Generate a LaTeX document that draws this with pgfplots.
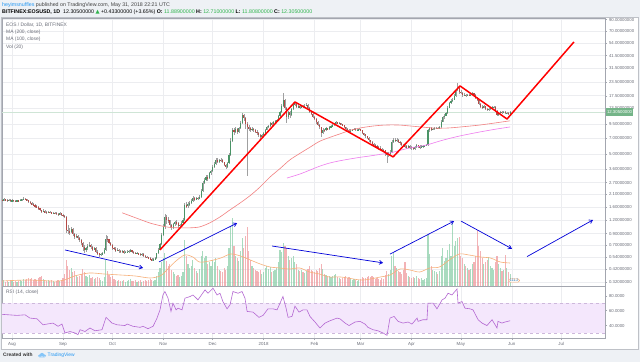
\documentclass[border=0pt]{standalone}
\usepackage{pgfplots}
\pgfplotsset{compat=1.18}
\usepackage{pgfplotstable}
\usepackage{fontspec}
\setmainfont{Liberation Sans}
\newfontfamily\symfont{DejaVu Sans}
\usetikzlibrary{arrows.meta}
\definecolor{bgc}{HTML}{EEF1F5}
\definecolor{framec}{HTML}{A3A6AF}
\definecolor{gridc}{HTML}{ECEDF0}
\definecolor{labc}{HTML}{6A6D78}
\definecolor{upc}{HTML}{4A9466}
\definecolor{dnc}{HTML}{B54A47}
\definecolor{wickc}{HTML}{A0A0A0}
\definecolor{volup}{HTML}{8DCFAA}
\definecolor{voldn}{HTML}{F09A9E}
\definecolor{volma}{HTML}{F7B07A}
\definecolor{mahund}{HTML}{F28080}
\definecolor{matwo}{HTML}{EE7CEE}
\definecolor{rsic}{HTML}{B468D2}
\definecolor{rsiband}{HTML}{F4E7FC}
\definecolor{rsidash}{HTML}{CDB8DB}
\definecolor{tvblue}{HTML}{2196F3}
\definecolor{valg}{HTML}{2EB34B}
\definecolor{pricec}{HTML}{74B488}
\definecolor{pricel}{HTML}{CFE5D6}

\pgfplotstableread{
d o h l c v
-6 1.86 1.90 1.80 1.84 5
-5 1.84 1.92 1.82 1.88 6
-4 1.88 1.90 1.81 1.85 4
-3 1.85 1.88 1.79 1.83 5
-2 1.83 1.89 1.80 1.86 4
-1 1.86 1.88 1.78 1.82 6
0 1.82 1.88 1.80 1.85 5
1 1.85 1.87 1.79 1.83 4
2 1.83 1.85 1.77 1.81 5
3 1.81 1.87 1.79 1.84 4
4 1.84 1.86 1.78 1.82 5
5 1.82 1.89 1.80 1.86 6
6 1.86 1.91 1.83 1.88 5
7 1.88 1.96 1.85 1.91 7
8 1.91 1.94 1.85 1.89 6
9 1.89 1.91 1.80 1.84 7
10 1.84 1.86 1.74 1.78 8
11 1.78 1.81 1.70 1.74 7
12 1.74 1.77 1.66 1.70 8
13 1.70 1.73 1.62 1.66 6
14 1.66 1.69 1.58 1.62 7
15 1.62 1.65 1.56 1.60 6
16 1.60 1.62 1.50 1.55 8
17 1.55 1.57 1.45 1.49 9
18 1.49 1.51 1.40 1.44 10
19 1.44 1.52 1.42 1.47 7
20 1.47 1.49 1.40 1.43 6
21 1.43 1.46 1.38 1.41 5
22 1.41 1.48 1.40 1.44 6
23 1.44 1.46 1.39 1.42 5
24 1.42 1.44 1.36 1.39 6
25 1.39 1.44 1.37 1.41 5
26 1.41 1.43 1.37 1.40 4
27 1.40 1.42 1.35 1.38 5
28 1.38 1.40 1.33 1.36 6
29 1.36 1.42 1.34 1.39 5
30 1.39 1.41 1.32 1.35 6
31 1.35 1.37 1.28 1.33 8
32 1.33 1.35 1.25 1.30 12
33 1.30 1.31 0.92 0.98 26
34 0.98 1.08 0.90 0.95 20
35 0.95 1.02 0.88 0.93 16
36 0.93 1.05 0.91 0.99 18
37 0.99 1.01 0.86 0.89 14
38 0.89 0.92 0.80 0.84 15
39 0.84 0.90 0.82 0.86 10
40 0.86 0.88 0.79 0.82 9
41 0.82 0.84 0.76 0.79 10
42 0.79 0.80 0.71 0.74 12
43 0.74 0.76 0.62 0.68 17
44 0.68 0.70 0.60 0.64 14
45 0.64 0.68 0.61 0.66 10
46 0.66 0.72 0.64 0.69 9
47 0.69 0.75 0.67 0.71 11
48 0.71 0.72 0.65 0.67 8
49 0.67 0.69 0.62 0.64 9
50 0.64 0.68 0.63 0.66 7
51 0.66 0.67 0.59 0.61 8
52 0.61 0.63 0.57 0.59 9
53 0.59 0.60 0.55 0.57 8
54 0.57 0.60 0.56 0.58 6
55 0.58 0.61 0.57 0.59 5
56 0.59 0.66 0.58 0.63 9
57 0.63 0.88 0.62 0.81 26
58 0.81 0.86 0.76 0.80 15
59 0.80 0.81 0.72 0.74 11
60 0.74 0.76 0.69 0.71 9
61 0.71 0.72 0.64 0.66 10
62 0.66 0.68 0.63 0.65 7
63 0.65 0.67 0.61 0.63 6
64 0.63 0.66 0.62 0.64 5
65 0.64 0.65 0.60 0.62 6
66 0.62 0.63 0.59 0.61 5
67 0.61 0.64 0.60 0.62 5
68 0.62 0.63 0.59 0.60 6
69 0.60 0.62 0.59 0.61 4
70 0.61 0.63 0.60 0.61 5
71 0.61 0.64 0.60 0.62 6
72 0.62 0.65 0.61 0.63 7
73 0.63 0.64 0.60 0.61 5
74 0.61 0.62 0.59 0.60 5
75 0.60 0.61 0.58 0.59 6
76 0.59 0.61 0.58 0.59 4
77 0.59 0.60 0.57 0.58 5
78 0.58 0.59 0.56 0.57 6
79 0.57 0.59 0.56 0.58 4
80 0.58 0.59 0.55 0.56 5
81 0.56 0.57 0.54 0.55 6
82 0.55 0.56 0.53 0.54 5
83 0.54 0.55 0.52 0.53 6
84 0.53 0.54 0.51 0.52 7
85 0.52 0.53 0.50 0.51 6
86 0.51 0.53 0.50 0.52 5
87 0.52 0.54 0.51 0.53 6
88 0.53 0.60 0.52 0.59 10
89 0.59 0.66 0.58 0.64 14
90 0.64 0.74 0.63 0.72 18
91 0.72 0.92 0.70 0.88 24
92 0.88 1.10 0.85 1.04 28
93 1.04 1.38 1.00 1.29 33
94 1.29 1.35 1.12 1.22 25
95 1.22 1.30 1.14 1.20 20
96 1.20 1.22 1.02 1.08 22
97 1.08 1.12 0.98 1.02 16
98 1.02 1.14 1.00 1.10 14
99 1.10 1.18 1.06 1.15 12
100 1.15 1.20 1.09 1.13 10
101 1.13 1.15 1.02 1.06 11
102 1.06 1.12 1.04 1.09 9
103 1.09 1.17 1.07 1.14 10
104 1.14 1.25 1.12 1.21 14
105 1.21 1.75 1.19 1.67 46
106 1.67 1.78 1.55 1.62 30
107 1.62 1.76 1.58 1.70 22
108 1.70 1.80 1.64 1.74 18
109 1.74 1.88 1.70 1.82 20
110 1.82 2.02 1.78 1.94 26
111 1.94 1.99 1.82 1.88 18
112 1.88 1.98 1.85 1.94 15
113 1.94 1.97 1.85 1.90 13
114 1.90 2.05 1.88 1.98 17
115 1.98 2.35 1.95 2.25 30
116 2.25 2.80 2.20 2.68 35
117 2.68 2.98 2.60 2.85 28
118 2.85 3.20 2.78 3.05 30
119 3.05 3.15 2.80 2.95 22
120 2.95 3.40 2.90 3.30 24
121 3.30 3.55 3.20 3.45 20
122 3.45 3.90 3.40 3.78 26
123 3.78 4.20 3.70 4.05 24
124 4.05 4.60 3.95 4.40 28
125 4.40 4.55 4.10 4.25 20
126 4.25 4.50 4.15 4.40 16
127 4.40 4.55 4.25 4.35 15
128 4.35 4.45 4.10 4.20 14
129 4.20 4.25 3.85 3.95 18
130 3.95 4.05 3.65 3.78 16
131 3.78 4.20 3.72 4.10 20
132 4.10 5.10 4.05 4.90 38
133 4.90 7.00 4.80 6.60 60
134 6.60 8.80 6.50 8.40 68
135 8.40 8.70 7.50 8.00 40
136 8.00 8.90 7.80 8.60 30
137 8.60 8.80 7.70 8.10 28
138 8.10 8.90 7.90 8.70 25
139 8.70 10.2 8.60 9.80 35
140 9.80 12.0 9.60 11.6 48
141 11.6 11.9 10.2 10.9 38
142 10.9 11.0 8.60 9.60 50
143 9.60 9.90 3.10 8.90 59
144 8.90 9.40 8.20 8.70 35
145 8.70 9.00 8.00 8.40 26
146 8.40 8.90 8.20 8.60 20
147 8.60 8.80 8.10 8.40 18
148 8.40 8.50 7.80 8.10 16
149 8.10 8.30 7.50 7.80 15
150 7.80 7.95 7.20 7.50 14
151 7.50 7.70 6.90 7.20 16
152 7.20 7.70 7.10 7.50 12
153 7.50 8.00 7.40 7.80 14
154 7.80 8.60 7.70 8.40 18
155 8.40 9.10 8.30 8.90 20
156 8.90 9.40 8.70 9.20 17
157 9.20 9.90 9.00 9.70 19
158 9.70 9.90 9.20 9.50 14
159 9.50 10.1 9.30 9.90 15
160 9.90 10.4 9.70 10.1 16
161 10.1 10.7 9.90 10.4 18
162 10.4 11.6 10.2 11.3 24
163 11.3 12.6 11.1 12.2 36
164 12.2 14.5 12.0 14.0 34
165 14.0 18.5 13.8 16.1 43
166 16.1 16.4 13.0 13.5 40
167 13.5 13.7 9.80 11.0 38
168 11.0 12.6 10.6 12.3 30
169 12.3 12.6 10.9 11.5 26
170 11.5 13.5 11.2 13.2 28
171 13.2 14.7 13.0 14.3 30
172 14.3 15.3 14.0 14.8 24
173 14.8 15.0 13.4 13.8 22
174 13.8 14.3 13.5 13.9 16
175 13.9 14.1 13.1 13.5 15
176 13.5 14.4 13.3 14.0 16
177 14.0 14.3 13.4 13.8 14
178 13.8 14.5 13.6 14.1 13
179 14.1 14.8 13.9 14.3 15
180 14.3 14.5 13.2 13.5 17
181 13.5 13.7 12.1 12.4 20
182 12.4 12.7 11.5 11.8 16
183 11.8 12.0 10.8 11.1 15
184 11.1 11.4 10.3 10.6 14
185 10.6 10.9 9.60 9.90 16
186 9.90 10.2 9.10 9.40 15
187 9.40 9.60 8.60 8.90 18
188 8.90 9.00 7.20 7.80 22
189 7.80 8.70 7.60 8.40 17
190 8.40 8.60 8.00 8.30 12
191 8.30 8.90 8.20 8.70 11
192 8.70 8.80 8.30 8.50 9
193 8.50 9.10 8.40 8.90 10
194 8.90 9.30 8.80 9.10 9
195 9.10 9.50 9.00 9.30 10
196 9.30 9.80 9.20 9.60 11
197 9.60 10.1 9.50 9.90 12
198 9.90 10.0 9.50 9.70 9
199 9.70 9.90 9.50 9.70 8
200 9.70 9.80 9.30 9.50 7
201 9.50 9.60 9.10 9.30 8
202 9.30 9.40 8.70 8.90 9
203 8.90 9.00 8.40 8.60 10
204 8.60 8.70 8.20 8.40 8
205 8.40 8.50 7.90 8.10 9
206 8.10 8.50 8.00 8.30 7
207 8.30 8.60 8.20 8.40 6
208 8.40 8.80 8.30 8.60 7
209 8.60 8.70 8.30 8.40 6
210 8.40 8.60 8.20 8.40 5
211 8.40 8.70 8.30 8.50 6
212 8.50 8.60 8.20 8.30 7
213 8.30 8.40 7.70 7.80 9
214 7.80 7.90 7.40 7.60 8
215 7.60 7.70 7.10 7.30 8
216 7.30 7.40 6.90 7.10 9
217 7.10 7.20 6.50 6.70 10
218 6.70 6.80 6.30 6.50 9
219 6.50 6.60 6.00 6.20 10
220 6.20 6.30 5.80 6.00 9
221 6.00 6.20 5.80 5.90 7
222 5.90 6.00 5.60 5.80 8
223 5.80 5.90 5.50 5.70 7
224 5.70 5.90 5.50 5.60 6
225 5.60 5.70 5.30 5.50 8
226 5.50 5.60 5.20 5.40 7
227 5.40 5.50 4.80 5.10 11
228 5.10 5.20 4.10 4.90 15
229 4.90 5.20 4.70 5.00 12
230 5.00 5.40 4.90 5.20 16
231 5.20 6.70 5.10 6.50 30
232 6.50 7.10 6.30 6.80 33
233 6.80 7.00 6.40 6.60 20
234 6.60 7.00 6.50 6.80 18
235 6.80 6.90 6.30 6.50 15
236 6.50 6.60 6.10 6.30 14
237 6.30 6.40 5.90 6.10 12
238 6.10 6.20 5.80 6.00 16
239 6.00 6.10 5.70 5.90 24
240 5.90 6.00 5.60 5.80 13
241 5.80 6.10 5.70 5.90 10
242 5.90 6.00 5.60 5.80 9
243 5.80 5.90 5.50 5.70 8
244 5.70 5.80 5.40 5.60 9
245 5.60 5.90 5.50 5.80 8
246 5.80 6.20 5.70 6.00 10
247 6.00 6.10 5.70 5.90 8
248 5.90 6.00 5.60 5.80 7
249 5.80 6.00 5.70 5.90 8
250 5.90 6.00 5.70 5.90 6
251 5.90 6.10 5.80 6.00 7
252 6.00 6.20 5.90 6.00 8
253 6.00 8.60 5.95 8.40 51
254 8.40 8.90 8.10 8.70 32
255 8.70 8.90 8.20 8.50 20
256 8.50 8.80 8.30 8.60 16
257 8.60 8.90 8.40 8.70 15
258 8.70 9.00 8.50 8.80 14
259 8.80 8.90 8.50 8.70 12
260 8.70 9.10 8.60 8.90 15
261 8.90 10.3 8.80 10.0 30
262 10.0 11.3 9.90 11.0 38
263 11.0 11.8 10.7 11.4 25
264 11.4 12.4 11.2 12.0 28
265 12.0 13.9 11.8 13.5 36
266 13.5 15.4 13.3 15.0 42
267 15.0 16.2 14.6 15.6 30
268 15.6 16.8 15.2 16.0 63
269 16.0 18.0 15.8 17.5 40
270 17.5 20.3 17.2 19.8 45
271 19.8 23.0 19.3 20.5 48
272 20.5 21.0 18.3 19.0 49
273 19.0 19.6 18.0 18.6 30
274 18.6 19.0 17.2 17.8 28
275 17.8 18.4 17.4 17.9 22
276 17.9 18.2 17.1 17.6 20
277 17.6 18.3 17.3 17.8 18
278 17.8 18.1 17.3 17.7 16
279 17.7 18.2 17.4 17.8 17
280 17.8 19.0 17.6 18.5 22
281 18.5 18.7 17.5 17.9 24
282 17.9 18.1 16.4 16.8 30
283 16.8 17.0 15.5 16.0 56
284 16.0 16.2 14.2 14.5 40
285 14.5 14.9 13.4 13.8 35
286 13.8 14.2 13.1 13.5 28
287 13.5 14.3 13.3 13.9 22
288 13.9 14.0 12.9 13.2 24
289 13.2 13.4 12.5 12.9 26
290 12.9 13.5 12.7 13.2 29
291 13.2 13.8 13.0 13.5 20
292 13.5 14.0 13.3 13.7 18
293 13.7 14.1 13.4 13.8 16
294 13.8 13.9 12.3 12.6 24
295 12.6 12.8 11.2 11.6 30
296 11.6 12.4 11.4 12.1 22
297 12.1 12.7 11.9 12.4 18
298 12.4 12.6 11.9 12.2 15
299 12.2 12.7 12.0 12.4 16
300 12.4 12.5 11.7 12.0 31
301 12.0 12.4 11.8 12.1 18
302 12.1 12.3 11.6 11.9 14
303 11.889 12.71 11.808 12.305 12
}\price

\pgfplotstableread{
d p
67 1.41
72 1.32
78 1.22
84 1.13
90 1.07
96 1.03
102 1.02
108 1.02
114 1.04
120 1.13
126.5 1.29
132 1.48
138.7 1.74
145 2.05
150.9 2.46
157 3.05
163 3.65
169 4.40
175 5.05
181 5.75
187 6.55
193.4 7.15
200 7.75
205.6 8.30
212 8.75
218 9.05
224 9.25
230 9.33
236 9.30
242 9.13
250 8.90
258 8.70
266 8.75
275 9.00
285 9.33
295 9.80
303 10.2
}\mahundred

\pgfplotstableread{
d p
167.3 2.98
175.2 3.25
181.3 3.54
187.3 3.85
193.4 4.12
199.5 4.32
205.6 4.49
211.7 4.65
217.8 4.79
223.8 4.95
229.9 5.11
236 5.40
242.1 5.69
248.2 5.90
252.4 6.07
260.3 6.61
266.4 7.00
272.5 7.37
278.6 7.70
284.7 8.03
293.8 8.50
303 8.94
}\matwohundred

\pgfplotstableread{
d v
-6 5
10 6
29 5
38 10
47 13
56 12
66 11
75 10
84 8
90 10
93 14
99 24
105 31
110 29
114 24
120 25
127 28
133 32
139 30
145 26
151 22
157 19
163 18
169 17
175 18
181 14
187 12
193 9
200 9
212 6
218 7
224 9
230 11
236 17
242 16
248 14
254 18
260 19
266 26
272 32
278 31
285 29
291 28
297 24
303 23
}\volmatab

\pgfplotstableread{
d r
-6 55
3 53.6
7.9 54.4
10.9 50
15.2 49
18.9 41
21.3 42
24.9 43.3
28 39
30.4 42
32.2 30
35.3 32
38.3 30
40.1 27.8
41.4 34.4
44.4 32
47.4 36.7
50.5 33
54.7 34.4
57.2 51
60.8 43.3
63.9 41
68.7 40
70 42
73.6 39
77.9 37.6
79.7 39
82.7 35.8
85.8 39
88.2 50
90 61
91.8 81
93 85.6
94.9 76.7
96.7 58.9
97.9 70
99.8 61
101 63.3
103.4 61
105.2 76.7
108.3 78.9
110.1 81
113.1 74.4
117.4 87.8
119.2 83.3
122.3 90
124.7 81
126.5 83.3
128.3 72
130.8 62.4
132.6 67.8
134.4 85.6
137.5 83.3
139.9 85.6
141.7 76.7
143 58.9
146.6 58
150.2 51
152.7 53.6
155.7 62.4
158.8 62.4
161.2 61
164.8 78.9
166.7 63.3
167.9 51
170.3 52.2
172.1 66
174.6 58
177 61
179.4 61
181.3 52
184.3 44.7
187.3 36.7
190.4 43.3
193.4 46.4
197.7 50
199.5 49
202.6 43.3
205 40
208.6 44.7
211.7 45.6
214.7 42
216.5 37.6
219.6 34.4
222.6 33
225.7 30
228.1 26.9
229.9 50
232.4 52.2
234.8 45.6
237.8 43.3
240.9 44.7
243.3 42
246.4 50
247 45.6
250 47.8
252.4 47.8
253 70
256.1 70
258.5 62.4
261.6 74.4
263.4 76.7
265.2 83.3
267.6 81
270.7 89
271.3 70
273.7 72.2
275.5 63.3
278.6 62.4
280.4 61
283.5 47.8
285.9 43.3
288.9 40
292 47.8
295 36.7
295.6 45.6
298 43.3
299.9 44.7
303 46.4
}\rsitab

\pgfplotstableread{
d p
90.0 0.635
172.1 15.3
231.8 4.69
272.5 21.6
301.1 10.6
341.8 55.6
}\redtrend

\pgfplotstableread{
d p
32.2 0.634
79.7 0.431
}\arrA
\pgfplotstableread{
d p
89.4 0.490
136.9 1.13
}\arrB
\pgfplotstableread{
d p
158.2 0.69
225.7 0.48
}\arrC
\pgfplotstableread{
d p
229.9 0.58
268.9 1.18
}\arrD
\pgfplotstableread{
d p
273.1 1.18
304.1 0.65
}\arrE
\pgfplotstableread{
d p
313.3 0.55
353.4 1.21
}\arrF

\pgfplotsset{
  paneaxis/.style={scale only axis, width=603pt, anchor=south west,
    xmin=-6.1, xmax=360.7},
  bluearrow/.style={draw=blue!85!black, line width=0.7pt, -{Straight Barb[length=3.2pt,width=4pt]}},
}

\begin{document}
\begin{tikzpicture}
\fill[bgc] (0pt,0pt) rectangle (640pt,362pt);
\fill[white] (1.5pt,13pt) rectangle (638pt,344.5pt);
\draw[framec!70, line width=0.4pt] (1.5pt,13pt) rectangle (638pt,344.5pt);

% header
\node[anchor=west, inner sep=0pt, font=\fontsize{5.3}{6}\selectfont] at (2pt,357pt)
  {{\color{tvblue}heyimsnuffles} {\color{black!75}published on TradingView.com, May 31, 2018 22:21 UTC}};
\node[anchor=west, inner sep=0pt, font=\fontsize{5.3}{6}\selectfont] at (2pt,349.5pt)
  {\textbf{BITFINEX:EOSUSD, 1D}\ \ 12.30500000 {\color{valg}\symfont ▲} +0.43300000 (+3.65\%) \textbf{O:} {\color{valg}11.88900000} \textbf{H:} {\color{valg}12.71000000} \textbf{L:} {\color{valg}11.80800000} \textbf{C:} {\color{valg}12.30500000}};

% main pane frame + grid
\begin{axis}[paneaxis, at={(2pt,76pt)}, height=268pt,
  ymin=-1.2311, ymax=4.5337,
  xtick={0,31,61,92,122,153,184,212,243,273,304,334}, xticklabels={},
  xtick style={draw=none},
  ytick={-1.1394,-0.8675,-0.6162,-0.3567,-0.1054,0.1823,0.4700,0.7419,0.9933,1.2809,1.6094,1.9459,2.2513,2.6027,2.8622,3.1570,3.4500,3.7257,3.9890,4.2485,4.4998},
  yticklabels={0.32000000,0.42000000,0.54000000,0.70000000,0.90000000,1.20000000,1.60000000,2.10000000,2.70000000,3.60000000,5.00000000,7.00000000,9.50000000,13.50000000,17.50000000,23.50000000,31.50000000,41.50000000,54.00000000,70.00000000,90.00000000},
  ytick pos=right, yticklabel pos=right,
  tick align=outside, major tick length=2pt,
  ytick style={draw=framec, line width=0.4pt},
  yticklabel style={font=\fontsize{4.3}{5}\selectfont, text=labc, xshift=-1.5pt},
  /pgf/number format/assume math mode=true,
  grid=major, major grid style={draw=gridc, line width=0.45pt},
  axis line style={draw=framec, line width=0.5pt}]
\addplot[draw=pricel, line width=0.6pt] coordinates {(-6.1,2.5100) (360.7,2.5100)};
\end{axis}

% volume
\begin{axis}[paneaxis, at={(2pt,76pt)}, height=268pt, hide axis, ymin=0, ymax=268]
\addplot[ycomb, mark=none, draw=volup, draw opacity=0.75, line width=1.15pt,
  restrict expr to domain={\thisrow{c}-\thisrow{o}}{0:1000}] table[x=d, y=v] {\price};
\addplot[ycomb, mark=none, draw=voldn, draw opacity=0.75, line width=1.15pt,
  restrict expr to domain={\thisrow{c}-\thisrow{o}}{-1000:-0.0000001}] table[x=d, y=v] {\price};
\addplot[draw=volma, mark=none, line width=0.6pt, smooth] table[x=d, y=v] {\volmatab};
\end{axis}

% price data
\begin{axis}[paneaxis, at={(2pt,76pt)}, height=268pt, hide axis, ymin=-1.2311, ymax=4.5337]
\addplot[draw=none, mark=none,
  error bars/.cd, y dir=both, y explicit, error mark=none,
  error bar style={draw=wickc, line width=0.4pt, solid}]
  table[x=d, y expr={ln(\thisrow{c})},
    y error plus expr={ln(\thisrow{h})-ln(\thisrow{c})},
    y error minus expr={ln(\thisrow{c})-ln(\thisrow{l})}] {\price};
\addplot[draw=none, mark=none,
  restrict expr to domain={\thisrow{c}-\thisrow{o}}{0:1000},
  error bars/.cd, y dir=both, y explicit, error mark=none,
  error bar style={draw=upc, line width=1.1pt, solid}]
  table[x=d, y expr={(ln(\thisrow{c})+ln(\thisrow{o}))/2},
    y error expr={max(abs(ln(\thisrow{c})-ln(\thisrow{o}))/2,0.004)}] {\price};
\addplot[draw=none, mark=none,
  restrict expr to domain={\thisrow{c}-\thisrow{o}}{-1000:-0.0000001},
  error bars/.cd, y dir=both, y explicit, error mark=none,
  error bar style={draw=dnc, line width=1.1pt, solid}]
  table[x=d, y expr={(ln(\thisrow{c})+ln(\thisrow{o}))/2},
    y error expr={max(abs(ln(\thisrow{c})-ln(\thisrow{o}))/2,0.004)}] {\price};
\addplot[draw=mahund, mark=none, line width=0.6pt, smooth] table[x=d, y expr={ln(\thisrow{p})}] {\mahundred};
\addplot[draw=matwo, mark=none, line width=0.6pt, smooth] table[x=d, y expr={ln(\thisrow{p})}] {\matwohundred};
\addplot[draw=red, mark=none, line width=1.5pt, line join=round] table[x=d, y expr={ln(\thisrow{p})}] {\redtrend};
\addplot[bluearrow, mark=none] table[x=d, y expr={ln(\thisrow{p})}] {\arrA};
\addplot[bluearrow, mark=none] table[x=d, y expr={ln(\thisrow{p})}] {\arrB};
\addplot[bluearrow, mark=none] table[x=d, y expr={ln(\thisrow{p})}] {\arrC};
\addplot[bluearrow, mark=none] table[x=d, y expr={ln(\thisrow{p})}] {\arrD};
\addplot[bluearrow, mark=none] table[x=d, y expr={ln(\thisrow{p})}] {\arrE};
\addplot[bluearrow, mark=none] table[x=d, y expr={ln(\thisrow{p})}] {\arrF};
\end{axis}

% legend texts in pane
\begin{scope}[font=\fontsize{4.9}{5.5}\selectfont, text=labc]
\node[anchor=west, inner sep=0pt] at (6pt,337pt) {EOS / Dollar, 1D, BITFINEX};
\node[anchor=west, inner sep=0pt] at (6pt,329.7pt) {MA (200, close)};
\node[anchor=west, inner sep=0pt] at (6pt,322.3pt) {MA (100, close)};
\node[anchor=west, inner sep=0pt] at (6pt,315.2pt) {Vol (20)};
\node[anchor=west, inner sep=0pt] at (6pt,70pt) {RSI (14, close)};
\end{scope}

% last price label
\node[anchor=west, fill=pricec, text=white, inner xsep=1.3pt, inner ysep=0pt, minimum height=7.5pt,
  font=\fontsize{4.3}{5}\selectfont] at (605.5pt,249.9pt) {12.30500000};
% volume value label
\node[anchor=west, draw=volma, fill=white, rounded corners=1.5pt, inner xsep=1.2pt, inner ysep=0.4pt,
  font=\fontsize{3.6}{4}\selectfont, text=tvblue!70!black] at (508.5pt,81.5pt) {111.2};

% RSI pane
\begin{axis}[paneaxis, at={(2pt,24pt)}, height=52pt,
  ymin=23.3, ymax=93,
  xtick={0,31,61,92,122,153,184,212,243,273,304,334},
  xticklabels={Aug,Sep,Oct,Nov,Dec,2018,Feb,Mar,Apr,May,Jun,Jul},
  xtick pos=bottom, ytick={40,60,80}, yticklabels={40.0000,60.0000,80.0000},
  ytick pos=right, yticklabel pos=right,
  tick align=outside, major tick length=2pt,
  tick style={draw=framec, line width=0.4pt},
  xticklabel style={font=\fontsize{4.4}{5}\selectfont, text=labc, yshift=0.8pt},
  yticklabel style={font=\fontsize{4.3}{5}\selectfont, text=labc, xshift=-1.5pt},
  /pgf/number format/assume math mode=true,
  xmajorgrids, major grid style={draw=gridc, line width=0.45pt},
  axis line style={draw=framec, line width=0.5pt}]
\addplot[draw=none, mark=none, fill=rsiband] coordinates {(-6.1,30) (360.7,30) (360.7,70) (-6.1,70)} -- cycle;
\addplot[draw=rsidash, mark=none, dashed, line width=0.45pt] coordinates {(-6.1,70) (360.7,70)};
\addplot[draw=rsidash, mark=none, dashed, line width=0.45pt] coordinates {(-6.1,30) (360.7,30)};
\addplot[draw=rsic, mark=none, line width=0.6pt] table[x=d, y=r] {\rsitab};
\end{axis}

% footer
\node[anchor=west, inner sep=0pt, font=\fontsize{4.9}{5.5}\selectfont\bfseries, text=black!80] at (3pt,7pt) {Created with};
\fill[tvblue!55] (39.5pt,6.2pt) circle (1.5pt) (42pt,7.2pt) circle (2.0pt) (44.6pt,6.2pt) circle (1.5pt) (39.5pt,4.7pt) rectangle (44.6pt,6.2pt);
\node[anchor=west, inner sep=0pt, font=\fontsize{4.9}{5.5}\selectfont, text=tvblue] at (47.5pt,7pt) {TradingView};
\end{tikzpicture}
\end{document}
